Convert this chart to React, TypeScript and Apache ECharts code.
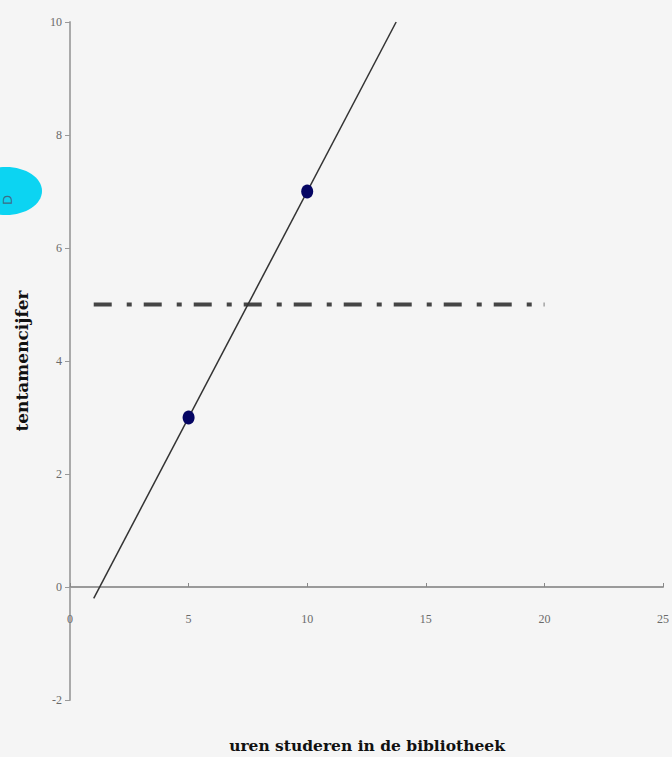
import React, { useEffect, useRef } from "react";
import * as echarts from "echarts";

const xTicks = { min: 0, max: 25, interval: 5 };
const yTicks = { min: -2, max: 10, interval: 2 };
const fitLine: [number, number][] = [
  [1, -0.2],
  [13.75, 10],
];
const referenceLine: [number, number][] = [
  [1, 5],
  [20, 5],
];
const observations: [number, number][] = [
  [5, 3],
  [10, 7],
];
const xName = "uren studeren in de bibliotheek";
const yName = "tentamencijfer";
const badgeText = "D";

export default function App() {
  const ref = useRef<HTMLDivElement>(null);
  useEffect(() => {
    if (!ref.current) return;
    const chart = echarts.init(ref.current, undefined, { renderer: "svg" });
    const tickFont = { color: "#6a6a6a", fontSize: 12, fontFamily: "Liberation Serif" };
    chart.setOption({
      animation: false,
      backgroundColor: "#f5f5f5",
      grid: { left: 70, right: 7, top: 22, bottom: 57, containLabel: false },
      xAxis: {
        type: "value",
        min: xTicks.min,
        max: xTicks.max,
        interval: xTicks.interval,
        axisLine: { show: true, onZero: true, lineStyle: { color: "#9a9a9a", width: 2 } },
        axisTick: { show: true, inside: true, length: 4, lineStyle: { color: "#888" } },
        axisLabel: { ...tickFont, margin: -87 },
        splitLine: { show: false },
      },
      yAxis: {
        type: "value",
        min: yTicks.min,
        max: yTicks.max,
        interval: yTicks.interval,
        name: yName,
        nameLocation: "middle",
        nameGap: 40,
        nameTextStyle: {
          color: "#111",
          fontWeight: "bold",
          fontSize: 17,
          fontFamily: "DejaVu Serif",
        },
        axisLine: { show: true, onZero: false, lineStyle: { color: "#aaa", width: 2 } },
        axisTick: { show: true, length: 5, lineStyle: { color: "#999" } },
        axisLabel: { ...tickFont, margin: 8 },
        splitLine: { show: false },
      },
      graphic: [
        {
          type: "ellipse",
          shape: { cx: 6, cy: 191, rx: 36, ry: 24 },
          style: { fill: "#0cd4f2" },
          z: 10,
        },
        {
          type: "text",
          x: 7,
          y: 200,
          rotation: Math.PI / 2,
          style: {
            text: badgeText,
            fill: "#3c6e88",
            fontSize: 13,
            fontFamily: "DejaVu Sans",
            align: "center",
            verticalAlign: "middle",
          },
          z: 11,
        },
        {
          type: "text",
          x: 367,
          y: 745,
          style: {
            text: xName,
            fill: "#111",
            fontSize: 15.5,
            fontWeight: "bold",
            fontFamily: "DejaVu Serif",
            align: "center",
            verticalAlign: "middle",
          },
        },
      ],
      series: [
        {
          type: "line",
          data: referenceLine,
          symbol: "none",
          lineStyle: { color: "#454545", width: 4, type: [18, 15, 5, 12], cap: "butt" },
          z: 2,
        },
        {
          type: "line",
          data: fitLine,
          symbol: "none",
          lineStyle: { color: "#333", width: 1.5 },
          z: 3,
        },
        {
          type: "scatter",
          data: observations,
          symbol: "circle",
          symbolSize: [12, 14],
          itemStyle: { color: "#050563", opacity: 1 },
          z: 4,
        },
      ],
    });
    return () => chart.dispose();
  }, []);
  return (
    <div
      ref={ref}
      style={{ position: "fixed", left: 0, top: 0, width: 672, height: 757 }}
    />
  );
}
